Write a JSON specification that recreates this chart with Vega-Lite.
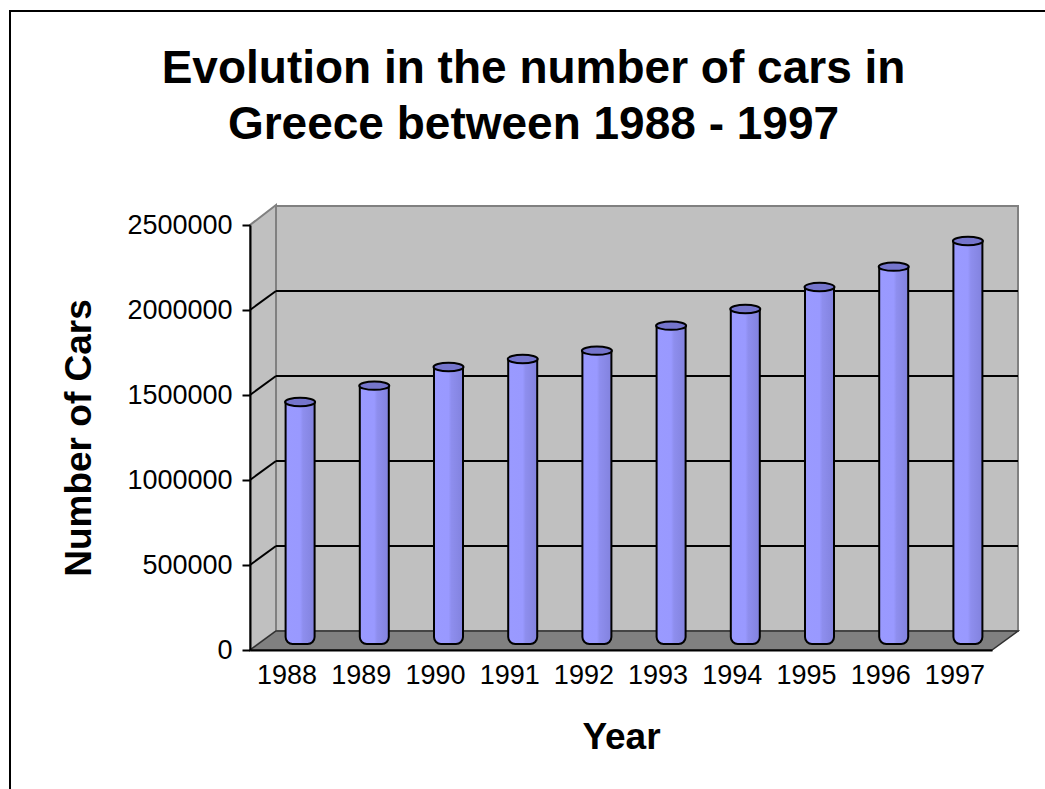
{
  "$schema": "https://vega.github.io/schema/vega-lite/v6.json",
  "width": 1035,
  "height": 778,
  "autosize": {"type": "none"},
  "padding": {"left": 10, "top": 11, "right": 0, "bottom": 0},
  "background": "white",
  "title": {
    "text": ["Evolution in the number of cars in", "Greece between 1988 - 1997"],
    "font": "Liberation Sans",
    "fontSize": 46,
    "fontWeight": "bold",
    "color": "black",
    "lineHeight": 56,
    "anchor": "middle",
    "baseline": "alphabetic",
    "offset": 0,
    "dx": 6,
    "dy": 174
  },
  "config": {
    "view": {"stroke": "black", "strokeWidth": 2, "strokeDash": [1813, 1813], "strokeDashOffset": 778},
    "axis": {
      "grid": false,
      "labelFont": "Liberation Sans",
      "titleFont": "Liberation Sans",
      "labelColor": "black",
      "titleColor": "black",
      "titleFontWeight": "bold",
      "titleFontSize": 37,
      "labelFontSize": 27,
      "domainColor": "black",
      "domainWidth": 2,
      "tickColor": "black",
      "tickWidth": 2
    }
  },
  "datasets": {
    "cars": [
      {"Year": "1988", "Cars": 1403000},
      {"Year": "1989", "Cars": 1499000},
      {"Year": "1990", "Cars": 1609000},
      {"Year": "1991", "Cars": 1656000},
      {"Year": "1992", "Cars": 1705000},
      {"Year": "1993", "Cars": 1852000},
      {"Year": "1994", "Cars": 1950000},
      {"Year": "1995", "Cars": 2079000},
      {"Year": "1996", "Cars": 2199000},
      {"Year": "1997", "Cars": 2350000}
    ],
    "levels": [
      {"level": 500000},
      {"level": 1000000},
      {"level": 1500000},
      {"level": 2000000}
    ]
  },
  "data": {"name": "cars"},
  "layer": [
    {
      "data": {"values": [{}]},
      "mark": {"type": "rect", "fill": "#c0c0c0", "stroke": "#808080", "strokeWidth": 2, "xOffset": 26, "x2Offset": 26, "yOffset": -19, "y2Offset": -19},
      "encoding": {
        "x": {"datum": "1988", "type": "ordinal", "bandPosition": 0},
        "x2": {"datum": "1997", "bandPosition": 1},
        "y": {"datum": 0, "type": "quantitative"},
        "y2": {"datum": 2500000}
      }
    },
    {
      "data": {"values": [{}]},
      "mark": {"type": "point", "shape": "M0,0 L0,-425 L26,-445 L26,-19 Z", "size": 4, "filled": true, "fill": "#c0c0c0", "stroke": "#808080", "strokeWidth": 2, "opacity": 1},
      "encoding": {
        "x": {"datum": "1988", "type": "ordinal", "bandPosition": 0},
        "y": {"datum": 0, "type": "quantitative"}
      }
    },
    {
      "data": {"values": [{}]},
      "mark": {"type": "point", "shape": "M0,0 L742,0 L768,-19 L26,-19 Z", "size": 4, "filled": true, "fill": "#808080", "stroke": "#303030", "strokeWidth": 1.5, "opacity": 1},
      "encoding": {
        "x": {"datum": "1988", "type": "ordinal", "bandPosition": 0},
        "y": {"datum": 0, "type": "quantitative"}
      }
    },
    {
      "data": {"name": "levels"},
      "mark": {"type": "rule", "color": "black", "strokeWidth": 2, "xOffset": 26, "x2Offset": 26, "yOffset": -19},
      "encoding": {
        "x": {"datum": "1988", "type": "ordinal", "bandPosition": 0},
        "x2": {"datum": "1997", "bandPosition": 1},
        "y": {"field": "level", "type": "quantitative"}
      }
    },
    {
      "data": {"name": "levels"},
      "mark": {"type": "rule", "color": "black", "strokeWidth": 2, "x2Offset": 26, "y2Offset": -19},
      "encoding": {
        "x": {"datum": "1988", "type": "ordinal", "bandPosition": 0},
        "x2": {"datum": "1988", "bandPosition": 0},
        "y": {"field": "level", "type": "quantitative"},
        "y2": {"field": "level"}
      }
    },
    {
      "mark": {
        "type": "bar",
        "width": 29,
        "xOffset": 13,
        "yOffset": -9.5,
        "y2Offset": -6,
        "stroke": "black",
        "strokeWidth": 2,
        "cornerRadiusBottomLeft": 7,
        "cornerRadiusBottomRight": 7,
        "fill": {
          "gradient": "linear",
          "x1": 0, "y1": 0, "x2": 1, "y2": 0,
          "stops": [
            {"offset": 0, "color": "#9a9aff"},
            {"offset": 0.5, "color": "#9999ff"},
            {"offset": 0.6, "color": "#8e8eee"},
            {"offset": 1, "color": "#8282de"}
          ]
        }
      },
      "encoding": {
        "x": {
          "field": "Year",
          "type": "ordinal",
          "scale": {"range": [240, 982], "paddingInner": 0, "paddingOuter": 0},
          "axis": {"title": "Year", "orient": "bottom", "offset": -139, "ticks": false, "bandPosition": 0.5, "labelAngle": 0, "labelAlign": "center", "labelPadding": 25, "titlePadding": 31, "zindex": 1}
        },
        "y": {
          "field": "Cars",
          "type": "quantitative",
          "scale": {"domain": [0, 2500000], "range": [639, 214], "nice": false},
          "axis": {"title": "Number of Cars", "orient": "left", "offset": -240, "values": [0, 500000, 1000000, 1500000, 2000000, 2500000], "format": "d", "tickSize": 8, "labelPadding": 10, "titlePadding": 28, "zindex": 1}
        },
        "y2": {"datum": 0}
      }
    },
    {
      "mark": {"type": "point", "shape": "M-1,0 A1,0.28 0 1,1 1,0 A1,0.28 0 1,1 -1,0 Z", "size": 900, "filled": true, "fill": "#7575cc", "stroke": "black", "strokeWidth": 2, "opacity": 1, "xOffset": 13, "yOffset": -9.5},
      "encoding": {
        "x": {"field": "Year", "type": "ordinal"},
        "y": {"field": "Cars", "type": "quantitative"}
      }
    }
  ]
}
